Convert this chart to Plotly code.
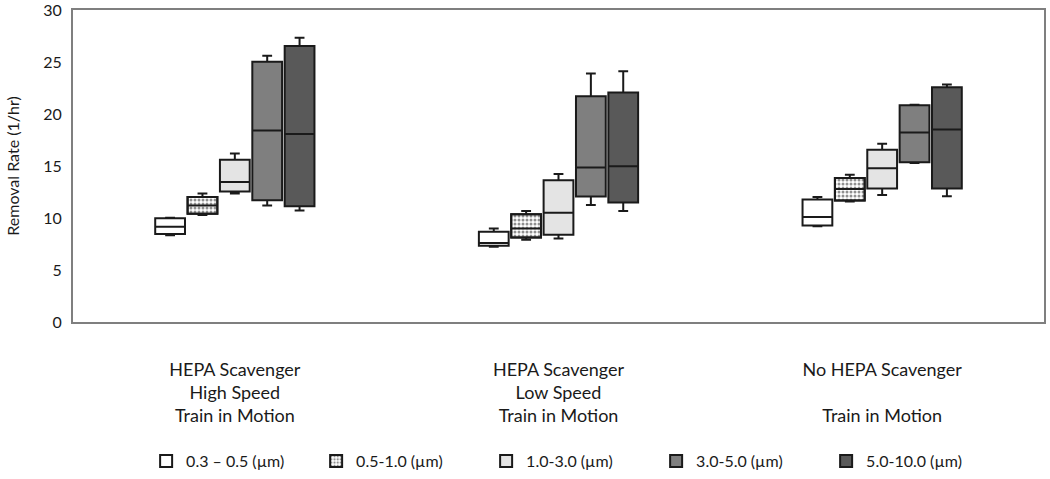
import plotly.graph_objects as go

categories = [
    "HEPA Scavenger<br>High Speed<br>Train in Motion",
    "HEPA Scavenger<br>Low Speed<br>Train in Motion",
    "No HEPA Scavenger<br> <br>Train in Motion",
]
sizes = ["0.3 – 0.5 (µm)", "0.5-1.0 (µm)", "1.0-3.0 (µm)", "3.0-5.0 (µm)", "5.0-10.0 (µm)"]

# per size bin: values for the three categories
lower_0305 = [8.35, 7.24, 9.21]
q1_0305 = [8.45, 7.33, 9.27]
med_0305 = [9.17, 7.59, 10.10]
q3_0305 = [9.97, 8.67, 11.78]
upper_0305 = [10.03, 8.98, 12.03]

lower_0510 = [10.29, 7.90, 11.59]
q1_0510 = [10.41, 8.12, 11.69]
med_0510 = [11.2, 9.0, 12.8]
q3_0510 = [12.03, 10.35, 13.84]
upper_0510 = [12.35, 10.67, 14.16]

lower_1030 = [12.35, 8.03, 12.22]
q1_1030 = [12.54, 8.38, 12.83]
med_1030 = [13.46, 10.50, 14.79]
q3_1030 = [15.59, 13.62, 16.57]
upper_1030 = [16.19, 14.22, 17.14]

lower_3050 = [11.21, 11.24, 15.30]
q1_3050 = [11.71, 12.07, 15.36]
med_3050 = [18.41, 14.86, 18.22]
q3_3050 = [25.02, 21.71, 20.83]
upper_3050 = [25.59, 23.90, 20.90]

lower_50100 = [10.73, 10.67, 12.10]
q1_50100 = [11.14, 11.50, 12.83]
med_50100 = [18.07, 14.98, 18.50]
q3_50100 = [26.54, 22.07, 22.57]
upper_50100 = [27.33, 24.10, 22.83]

stats = [
    (lower_0305, q1_0305, med_0305, q3_0305, upper_0305),
    (lower_0510, q1_0510, med_0510, q3_0510, upper_0510),
    (lower_1030, q1_1030, med_1030, q3_1030, upper_1030),
    (lower_3050, q1_3050, med_3050, q3_3050, upper_3050),
    (lower_50100, q1_50100, med_50100, q3_50100, upper_50100),
]
fills = ["#ffffff", "rgba(0,0,0,0)", "#e4e4e4", "#7f7f7f", "#595959"]

BOXGAP = 0.5
BOXGROUPGAP = 0.08
LINE = "#1a1a1a"

fig = go.Figure()

# patterned body for the 0.5-1.0 bin (drawn under the box outlines)
n = len(sizes)
slot = (1 - BOXGAP) / n
bw = slot * (1 - BOXGROUPGAP)
center_off = -(1 - BOXGAP) / 2 + slot * 1.5
fig.add_trace(go.Bar(
    x=categories,
    y=[b - a for a, b in zip(q1_0510, q3_0510)],
    base=q1_0510,
    width=bw,
    offset=center_off - bw / 2,
    name=sizes[1],
    marker=dict(color="#ffffff",
                line=dict(color=LINE, width=2),
                pattern=dict(shape=".", fgcolor="#222222", bgcolor="#ffffff",
                             size=4, solidity=0.45, fillmode="overlay")),
    showlegend=True,
    legendrank=2,
    hoverinfo="skip",
))

for i, (name, (lo, q1, med, q3, up)) in enumerate(zip(sizes, stats)):
    fig.add_trace(go.Box(
        x=categories,
        lowerfence=lo, q1=q1, median=med, q3=q3, upperfence=up,
        name=name,
        fillcolor=fills[i],
        line=dict(color=LINE, width=2),
        whiskerwidth=0.33,
        showlegend=(i != 1),
        legendrank=i + 1,
    ))

fig.update_layout(
    width=1050, height=479,
    margin=dict(l=73, r=6, t=10, b=157, autoexpand=False),
    paper_bgcolor="white", plot_bgcolor="white",
    boxmode="group", boxgap=BOXGAP, boxgroupgap=BOXGROUPGAP,
    font=dict(family="Lato, Open Sans, sans-serif", color="#1a1a1a", size=16),
    legend=dict(orientation="h", x=0.513, xanchor="center", y=-0.4455, yanchor="middle",
                font=dict(size=16), entrywidth=125, traceorder="normal"),
)
fig.update_xaxes(
    showline=True, mirror=True, linecolor="#7f7f7f", linewidth=2,
    showgrid=False, ticks="", tickfont=dict(size=18),
    ticklabelstandoff=30, automargin=False,
)
fig.update_yaxes(
    range=[0, 30], dtick=5, showline=True, mirror=True, linecolor="#7f7f7f",
    linewidth=2, showgrid=False, zeroline=False, ticks="",
    tickfont=dict(size=16), ticklabelstandoff=6, automargin=False,
    ticklabeloverflow="allow",
    title=dict(text="Removal Rate (1/hr)", font=dict(size=16), standoff=20),
)

fig.write_html(
    "out.html",
    config={"displayModeBar": False},
    post_script=(
        "document.body.style.margin='0';"
        "document.documentElement.style.overflow='hidden';"
        "document.body.style.overflow='hidden';"
    ),
)
